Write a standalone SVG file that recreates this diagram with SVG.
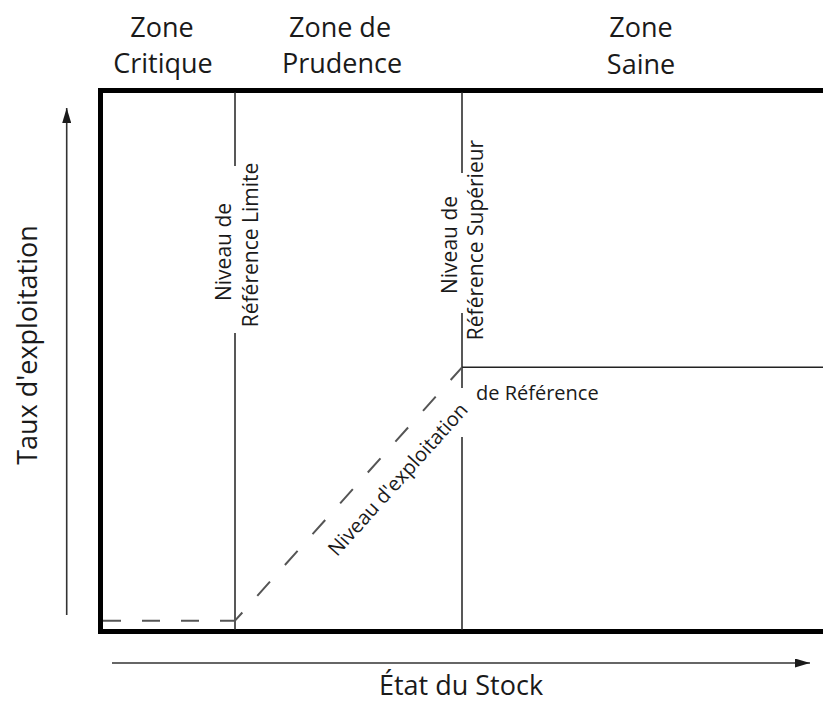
<svg xmlns="http://www.w3.org/2000/svg" width="823" height="704" viewBox="0 0 823 704">
<defs>
<style>
.t{font-family:"Open Sans","Noto Sans","Liberation Sans",sans-serif;fill:#1a1a1a}
.big{font-size:27px}
.mid{font-size:21px}
.sm{font-size:20px}
.ln{stroke:#222;stroke-width:1.5;fill:none}
.ax{stroke:#333;stroke-width:1.6;fill:none}
.dash{stroke:#555;stroke-width:2;fill:none;stroke-dasharray:19 22.4}
</style>
<marker id="ah" viewBox="0 0 15 9" refX="15" refY="4.5" markerWidth="15" markerHeight="9" markerUnits="userSpaceOnUse" orient="auto">
<path d="M0 0 L15 4.5 L0 9 Z" fill="#1a1a1a"/>
</marker>
</defs>
<rect width="823" height="704" fill="#fff"/>
<g id="zone-labels">
<g id="zone-critique"><text class="t big" x="162" y="37" text-anchor="middle">Zone</text><text class="t big" x="163" y="73" text-anchor="middle">Critique</text></g>
<g id="zone-prudence"><text class="t big" x="340" y="37" text-anchor="middle">Zone de</text><text class="t big" x="342" y="73" text-anchor="middle">Prudence</text></g>
<g id="zone-saine"><text class="t big" x="641" y="37" text-anchor="middle">Zone</text><text class="t big" x="641" y="74" text-anchor="middle">Saine</text></g>
</g>
<g id="frame">
<path d="M823 90.5 H100.5 V631.5 H823" stroke="#000" stroke-width="5" fill="none"/>
</g>
<g id="reference-lines">
<path class="ln" d="M235 92 V166 M235 333 V630"/>
<path class="ln" d="M462 92 V173 M462 313 V388 M462 437 V630 M462 367.3 H823"/>
</g>
<g id="label-limite">
<text class="t mid" transform="translate(231,252) rotate(-90)" text-anchor="middle">Niveau de</text>
<text class="t mid" transform="translate(258,245) rotate(-90)" text-anchor="middle">Référence Limite</text>
</g>
<g id="label-superieur">
<text class="t mid" transform="translate(457,245) rotate(-90)" text-anchor="middle">Niveau de</text>
<text class="t mid" transform="translate(483,240) rotate(-90)" text-anchor="middle">Référence Supérieur</text>
</g>
<g id="connectors">
<path class="dash" d="M103 620.7 H235" style="stroke-dashoffset:0;stroke-dasharray:18 21"/>
<path class="dash" d="M235 620.7 L462 367.3" style="stroke-dashoffset:8"/>
<line class="ax" x1="112" y1="663" x2="810" y2="663" marker-end="url(#ah)"/>
<line class="ax" x1="66.7" y1="615" x2="66.7" y2="108" marker-end="url(#ah)"/>
</g>
<g id="label-exploitation">
<text class="t sm" transform="translate(403,484) rotate(-48)" text-anchor="middle">Niveau d'exploitation</text>
<text class="t sm" x="476" y="400">de Référence</text>
</g>
<g id="axis-labels">
<text class="t big" transform="translate(37,345) rotate(-90)" text-anchor="middle">Taux d'exploitation</text>
<text class="t big" x="461" y="695" text-anchor="middle">État du Stock</text>
</g>
</svg>
